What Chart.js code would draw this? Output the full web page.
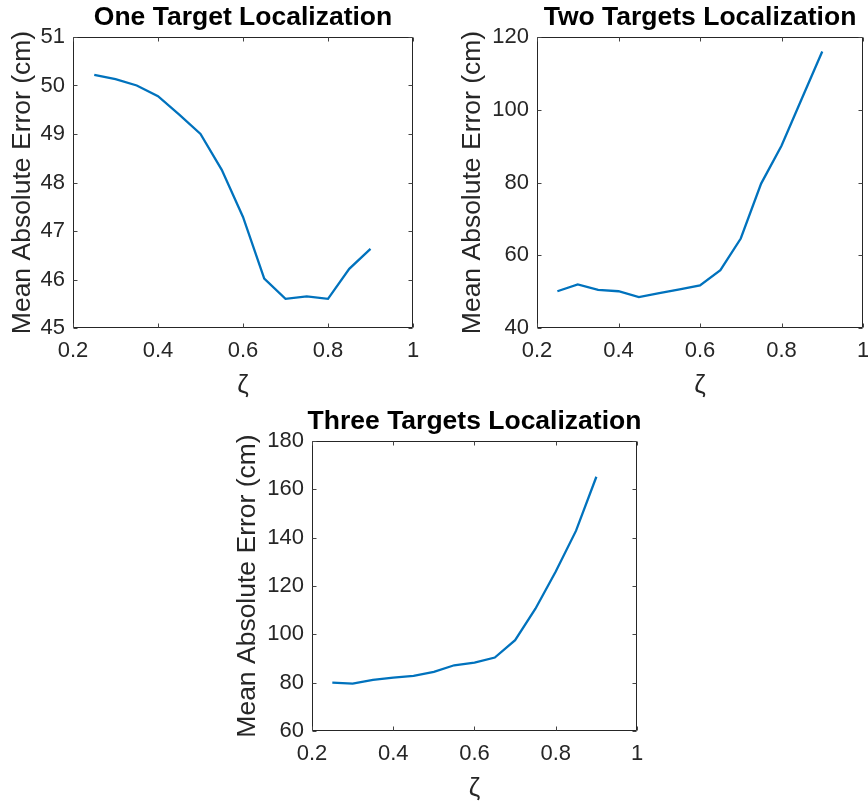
<!DOCTYPE html>
<html><head><meta charset="utf-8">
<script src="https://cdn.jsdelivr.net/npm/chart.js@4.4.1/dist/chart.umd.min.js"></script>
<style>
html,body{margin:0;padding:0;background:#fff;width:868px;height:804px;overflow:hidden;position:relative}
canvas{position:absolute}
</style></head><body>
<canvas id="c1" width="476" height="403" style="left:5px;top:0px"></canvas>
<canvas id="c2" width="490" height="403" style="left:455px;top:0px"></canvas>
<canvas id="c3" width="489" height="402" style="left:230px;top:404px"></canvas>
<script>
const zeta = [0.25,0.30,0.35,0.40,0.45,0.50,0.55,0.60,0.65,0.70,0.75,0.80,0.85,0.90];
const oneTarget = [50.22,50.13,50.00,49.78,49.40,49.00,48.26,47.29,46.02,45.60,45.65,45.60,46.22,46.63];
const twoTargets = [50.1,52.0,50.5,50.1,48.5,49.6,50.6,51.7,55.9,64.6,79.7,90.1,103.1,116.0];
const threeTargets = [80.0,79.6,81.2,82.1,82.8,84.5,87.2,88.3,90.4,97.6,110.6,126.0,142.9,165.2];
const xTicks = [0.2,0.4,0.6,0.8,1];
const yTicksOne = [45,46,47,48,49,50,51];
const yTicksTwo = [40,60,80,100,120];
const yTicksThree = [60,80,100,120,140,160,180];
const chartTitles = ['One Target Localization','Two Targets Localization','Three Targets Localization'];
const yLabel = 'Mean Absolute Error (cm)';
const xLabel = 'ζ';

const FONT = '"Liberation Sans", Arial, Helvetica, sans-serif';
const AXIS = '#262626';

const boxPlugin = {
  id: 'boxTicks',
  afterDatasetsDraw(chart) {
    const {ctx, chartArea: a, scales: {x, y}} = chart;
    const L = Math.round(a.left) + 0.5, R = Math.round(a.right) - 0.5;
    const T = Math.round(a.top) + 0.5, B = Math.round(a.bottom) - 0.5;
    ctx.save();
    ctx.lineWidth = 1;
    ctx.strokeStyle = AXIS;
    ctx.beginPath();
    ctx.moveTo(L, T); ctx.lineTo(R, T); ctx.lineTo(R, B); ctx.lineTo(L, B); ctx.closePath();
    ctx.stroke();
    const tl = 4;
    ctx.strokeStyle = '#444';
    ctx.beginPath();
    x.ticks.forEach(t => {
      const px = Math.round(x.getPixelForValue(t.value)) + 0.5;
      ctx.moveTo(px, B); ctx.lineTo(px, B - tl);
      ctx.moveTo(px, T); ctx.lineTo(px, T + tl);
    });
    y.ticks.forEach(t => {
      const py = Math.round(y.getPixelForValue(t.value)) + 0.5;
      ctx.moveTo(L, py); ctx.lineTo(L + tl, py);
      ctx.moveTo(R, py); ctx.lineTo(R - tl, py);
    });
    ctx.stroke();
    ctx.restore();
  }
};

function makeChart(id, title, values, yTicks, yW) {
  return new Chart(document.getElementById(id), {
    type: 'line',
    data: {
      datasets: [{
        data: zeta.map((z, i) => ({x: z, y: values[i]})),
        borderColor: '#0072BD', borderWidth: 2.3, pointRadius: 0, fill: false, tension: 0
      }]
    },
    options: {
      responsive: false, animation: false, devicePixelRatio: 1,
      layout: {padding: 0},
      plugins: {
        legend: {display: false}, tooltip: {enabled: false},
        title: {display: true, text: title, color: '#000',
          font: {family: FONT, size: 26.5, weight: 'bold', lineHeight: 1.2},
          padding: {top: 2, bottom: 3.2}}
      },
      scales: {
        x: {
          type: 'linear', position: 'bottom', min: xTicks[0], max: xTicks[xTicks.length - 1],
          afterBuildTicks: s => { s.ticks = xTicks.map(v => ({value: v})); },
          afterFit: s => { s.height = 75; },
          grid: {display: false, drawTicks: false}, border: {display: false},
          ticks: {color: AXIS, font: {family: FONT, size: 22}, padding: 10, maxRotation: 0, autoSkip: false,
                  callback: v => String(v)},
          title: {display: true, text: xLabel, color: AXIS, font: {family: FONT, size: 26}, padding: {top: 0, bottom: 2}}
        },
        y: {
          type: 'linear', position: 'left', min: yTicks[0], max: yTicks[yTicks.length - 1],
          afterBuildTicks: s => { s.ticks = yTicks.map(v => ({value: v})); },
          afterFit: s => { s.width = yW; },
          grid: {display: false, drawTicks: false}, border: {display: false},
          ticks: {color: AXIS, font: {family: FONT, size: 22}, padding: 8, autoSkip: false,
                  callback: v => String(v)},
          title: {display: true, text: yLabel, color: AXIS, font: {family: FONT, size: 26.5}, padding: {top: 2, bottom: 0}}
        },
        yR: {
          type: 'linear', position: 'right', min: 0, max: 1, display: true,
          grid: {display: false, drawTicks: false}, border: {display: false},
          ticks: {display: false},
          afterFit: s => { s.width = yW; }
        }
      }
    },
    plugins: [boxPlugin]
  });
}

makeChart('c1', chartTitles[0], oneTarget, yTicksOne, 68);
makeChart('c2', chartTitles[1], twoTargets, yTicksTwo, 82);
makeChart('c3', chartTitles[2], threeTargets, yTicksThree, 82);
</script>
</body></html>
